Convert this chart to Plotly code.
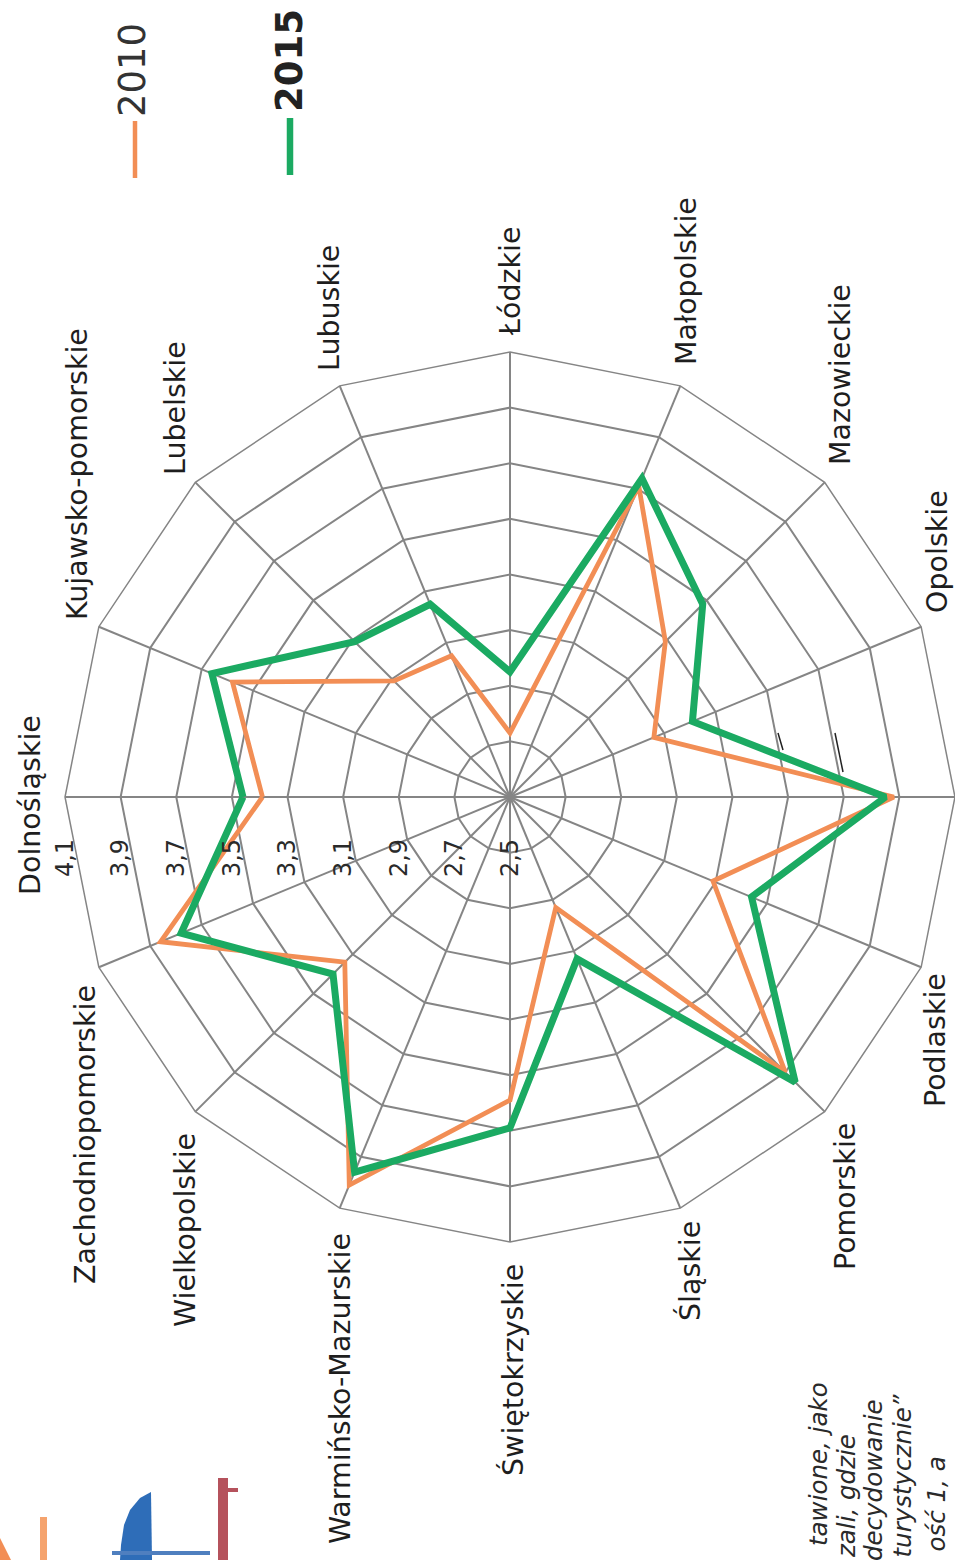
import plotly.graph_objects as go

# Voivodeships, in order around the chart
regions = [
    "Dolnośląskie", "Kujawsko-pomorskie", "Lubelskie", "Lubuskie", "Łódzkie",
    "Małopolskie", "Mazowieckie", "Opolskie", "Podkarpackie", "Podlaskie",
    "Pomorskie", "Śląskie", "Świętokrzyskie", "Warmińsko-Mazurskie",
    "Wielkopolskie", "Zachodniopomorskie",
]
values_2010 = [3.39, 3.58, 3.09, 3.05, 2.73, 3.71, 3.29, 3.06,
               3.88, 3.29, 3.90, 2.93, 3.59, 4.01, 3.34, 3.86]
values_2015 = [3.46, 3.66, 3.29, 3.25, 2.95, 3.74, 3.48, 3.21,
               3.85, 3.44, 3.95, 3.13, 3.69, 3.96, 3.40, 3.78]
tick_values = [2.5, 2.7, 2.9, 3.1, 3.3, 3.5, 3.7, 3.9, 4.1]
tick_labels = ["2,5", "2,7", "2,9", "3,1", "3,3", "3,5", "3,7", "3,9", "4,1"]
series_names = ["2010", "2015"]

W, H = 955, 1560
FONT = "DejaVu Sans"
GRID = "#858585"
ORANGE = "#F28E55"
GREEN = "#1BAA62"


def px(x):
    return x / W


def py(y):
    return 1 - y / H


fig = go.Figure()

for name, vals, color, width in [
    (series_names[0], values_2010, ORANGE, 4.8),
    (series_names[1], values_2015, GREEN, 7),
]:
    fig.add_trace(go.Scatterpolar(
        r=vals + vals[:1],
        theta=regions + regions[:1],
        mode="lines",
        name=name,
        line=dict(color=color, width=width),
        showlegend=False,
        hoverinfo="skip",
    ))

fig.update_layout(
    width=W, height=H,
    margin=dict(l=0, r=0, t=0, b=0),
    paper_bgcolor="white",
    polar=dict(
        domain=dict(x=[65 / W, 1.0], y=[py(1242), py(352)]),
        bgcolor="white",
        gridshape="linear",
        angularaxis=dict(
            type="category",
            categoryarray=regions,
            rotation=180,
            direction="clockwise",
            showticklabels=False,
            ticks="",
            showgrid=True,
            gridcolor=GRID,
            gridwidth=1.5,
            showline=True,
            linecolor=GRID,
            linewidth=1.5,
        ),
        radialaxis=dict(
            range=[2.5, 4.1],
            tickvals=tick_values,
            ticktext=tick_labels,
            angle=180,
            side="counterclockwise",
            tickangle=90,
            ticks="outside",
            ticklen=33,
            tickcolor="rgba(0,0,0,0)",
            showline=False,
            showgrid=True,
            gridcolor=GRID,
            gridwidth=1.5,
            tickfont=dict(family=FONT, size=24, color="#2a2a2a"),
        ),
    ),
)

# Category labels, rotated to run bottom-to-top
label_pos = {
    "Dolnośląskie": (30, 805),
    "Kujawsko-pomorskie": (77, 474),
    "Lubelskie": (176, 408),
    "Lubuskie": (330, 308),
    "Łódzkie": (510, 282),
    "Małopolskie": (686, 281),
    "Mazowieckie": (840, 375),
    "Opolskie": (937, 552),
    "Podlaskie": (935, 1040),
    "Pomorskie": (845, 1197),
    "Śląskie": (690, 1271),
    "Świętokrzyskie": (513, 1370),
    "Warmińsko-Mazurskie": (340, 1389),
    "Wielkopolskie": (185, 1230),
    "Zachodniopomorskie": (85, 1135),
}
for name in regions:
    if name not in label_pos:
        continue
    x, y = label_pos[name]
    fig.add_annotation(
        x=px(x), y=py(y), xref="paper", yref="paper",
        text=name, textangle=-90, showarrow=False,
        xanchor="center", yanchor="middle",
        font=dict(family=FONT, size=28.5, color="#1e1e1e"),
    )

# Legend drawn as rotated text with short vertical keys
fig.add_annotation(x=px(133), y=py(70), xref="paper", yref="paper",
                   text=series_names[0], textangle=-90, showarrow=False,
                   xanchor="center", yanchor="middle",
                   font=dict(family=FONT, size=37, color="#333333"))
fig.add_annotation(x=px(290), y=py(61), xref="paper", yref="paper",
                   text="<b>" + series_names[1] + "</b>", textangle=-90,
                   showarrow=False, xanchor="center", yanchor="middle",
                   font=dict(family=FONT, size=37, color="#222222"))
fig.add_shape(type="line", xref="paper", yref="paper",
              x0=px(135), x1=px(135), y0=py(121), y1=py(178),
              line=dict(color=ORANGE, width=4.5))
fig.add_shape(type="line", xref="paper", yref="paper",
              x0=px(290), x1=px(290), y0=py(118), y1=py(175),
              line=dict(color=GREEN, width=6.5))

# Fragments of the surrounding page text
page_lines = [
    ("tawione, jako", 818, 1380),
    ("zali, gdzie", 846, 1432),
    ("decydowanie", 873, 1397),
    ("turystycznie”", 902, 1393),
    ("ość 1, a", 936, 1455),
]
for txt, x, ytop in page_lines:
    fig.add_annotation(x=px(x), y=py(ytop), xref="paper", yref="paper",
                       text="<i>" + txt + "</i>", textangle=-90,
                       showarrow=False, xanchor="center", yanchor="top",
                       font=dict(family=FONT, size=24.5, color="#2a2a2a"))


# Page ornament pieces at the lower-left corner
def path(points):
    return "M " + " L ".join(f"{px(x)} {py(y)}" for x, y in points) + " Z"


fig.add_shape(type="path", xref="paper", yref="paper",
              path=path([(0, 1538), (11, 1560), (0, 1560)]),
              fillcolor=ORANGE, line=dict(width=0))
fig.add_shape(type="rect", xref="paper", yref="paper",
              x0=px(40), x1=px(47), y0=py(1517), y1=py(1560),
              fillcolor="#F5A36E", line=dict(width=0))
fig.add_shape(type="path", xref="paper", yref="paper",
              path=path([(151, 1492), (140, 1498), (130, 1510), (124, 1525),
                         (121, 1545), (120, 1560), (152, 1560)]),
              fillcolor="#2E6DB8", line=dict(width=0))
fig.add_shape(type="rect", xref="paper", yref="paper",
              x0=px(112), x1=px(210), y0=py(1551), y1=py(1555),
              fillcolor="#4F7FBF", line=dict(width=0))
fig.add_shape(type="rect", xref="paper", yref="paper",
              x0=px(218), x1=px(228), y0=py(1478), y1=py(1560),
              fillcolor="#B5525C", line=dict(width=0))
fig.add_shape(type="rect", xref="paper", yref="paper",
              x0=px(228), x1=px(238), y0=py(1488), y1=py(1492),
              fillcolor="#B5525C", line=dict(width=0))

# Small pen marks on the grid
for (x0, y0, x1, y1) in [(778, 733, 783, 750), (835, 733, 843, 772)]:
    fig.add_shape(type="line", xref="paper", yref="paper",
                  x0=px(x0), y0=py(y0), x1=px(x1), y1=py(y1),
                  line=dict(color="#222222", width=1.5))

fig.write_html("out.html")
